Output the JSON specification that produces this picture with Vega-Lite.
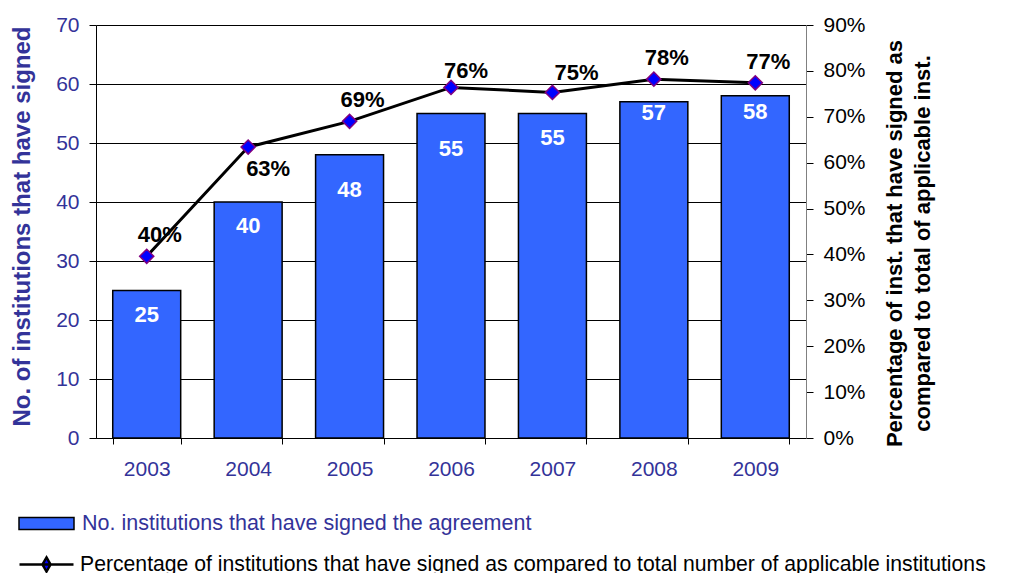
{
  "$schema": "https://vega.github.io/schema/vega-lite/v6.json",
  "width": 710,
  "height": 413,
  "autosize": {"type": "none"},
  "padding": {"left": 96, "top": 25, "right": 204, "bottom": 135},
  "background": "white",
  "config": {"view": {"stroke": null}, "font": "Liberation Sans"},
  "data": {
    "values": [
      {"year": "2003", "count": 25, "pct": 0.396},
      {"year": "2004", "count": 40, "pct": 0.634},
      {"year": "2005", "count": 48, "pct": 0.69},
      {"year": "2006", "count": 55, "pct": 0.764},
      {"year": "2007", "count": 55, "pct": 0.753},
      {"year": "2008", "count": 57, "pct": 0.782},
      {"year": "2009", "count": 58, "pct": 0.774}
    ]
  },
  "encoding": {
    "x": {
      "field": "year",
      "type": "ordinal",
      "scale": {"paddingInner": 0.33, "paddingOuter": 0.165},
      "axis": {
        "title": null,
        "labelAngle": 0,
        "labelFontSize": 21,
        "labelColor": "#333399",
        "labelPadding": 14,
        "tickBand": "extent",
        "tickSize": 6,
        "tickColor": "black",
        "domainColor": "black",
        "grid": false
      }
    }
  },
  "layer": [
    {
      "layer": [
        {
          "mark": {"type": "bar", "stroke": "black", "strokeWidth": 1.5},
          "encoding": {
            "y": {
              "field": "count",
              "type": "quantitative",
              "scale": {"domain": [0, 70]},
              "axis": {
                "orient": "left",
                "values": [0, 10, 20, 30, 40, 50, 60, 70],
                "title": "No. of institutions that have signed",
                "titleFontSize": 24,
                "titleFontWeight": "bold",
                "titleColor": "#333399",
                "titlePadding": 21,
                "titleY": 201,
                "labelFontSize": 21,
                "labelColor": "#333399",
                "labelPadding": 10,
                "tickSize": 7,
                "tickColor": "black",
                "domainColor": "black",
                "grid": true,
                "gridColor": "black",
                "gridWidth": 1
              }
            },
            "fill": {
              "datum": "No. institutions that have signed the agreement",
              "type": "nominal",
              "scale": {"range": ["#3366FF"]},
              "legend": {
                "orient": "none",
                "legendX": -78,
                "legendY": 470,
                "title": null,
                "padding": 0,
                "symbolType": "M-1,-0.22H1V0.22H-1Z",
                "symbolSize": 3025,
                "symbolStrokeColor": "black",
                "symbolStrokeWidth": 1.5,
                "symbolFillColor": "#3366FF",
                "labelFontSize": 21.5,
                "labelColor": "#333399",
                "labelLimit": 1000,
                "labelOffset": 7
              }
            }
          }
        },
        {
          "transform": [{"filter": "datum.year == '2003' || datum.year == '2004' || datum.year == '2007'"}],
          "mark": {"type": "text", "fontSize": 22, "fontWeight": "bold", "color": "white", "baseline": "middle", "dy": 24},
          "encoding": {
            "y": {"field": "count", "type": "quantitative"},
            "text": {"field": "count", "type": "quantitative"}
          }
        },
        {
          "transform": [{"filter": "datum.year == '2005' || datum.year == '2006'"}],
          "mark": {"type": "text", "fontSize": 22, "fontWeight": "bold", "color": "white", "baseline": "middle", "dy": 35},
          "encoding": {
            "y": {"field": "count", "type": "quantitative"},
            "text": {"field": "count", "type": "quantitative"}
          }
        },
        {
          "transform": [{"filter": "datum.year == '2008'"}],
          "mark": {"type": "text", "fontSize": 22, "fontWeight": "bold", "color": "white", "baseline": "middle", "dy": 11},
          "encoding": {
            "y": {"field": "count", "type": "quantitative"},
            "text": {"field": "count", "type": "quantitative"}
          }
        },
        {
          "transform": [{"filter": "datum.year == '2009'"}],
          "mark": {"type": "text", "fontSize": 22, "fontWeight": "bold", "color": "white", "baseline": "middle", "dy": 16},
          "encoding": {
            "y": {"field": "count", "type": "quantitative"},
            "text": {"field": "count", "type": "quantitative"}
          }
        }
      ]
    },
    {
      "layer": [
        {
          "mark": {"type": "line", "strokeWidth": 3},
          "encoding": {
            "y": {
              "field": "pct",
              "type": "quantitative",
              "scale": {"domain": [0, 0.9]},
              "axis": {
                "orient": "right",
                "format": ".0%",
                "values": [0, 0.1, 0.2, 0.3, 0.4, 0.5, 0.6, 0.7, 0.8, 0.9],
                "labelFontSize": 21,
                "labelColor": "black",
                "labelPadding": 10,
                "tickSize": 7,
                "tickColor": "black",
                "domainColor": "#808080",
                "grid": false,
                "title": ["Percentage of  inst. that have signed as", "compared to total of applicable inst."],
                "titleAngle": 270,
                "titleY": 218,
                "titleFontSize": 22,
                "titleFontWeight": "bold",
                "titleColor": "black",
                "titlePadding": 13,
                "titleLineHeight": 28
              }
            },
            "stroke": {
              "datum": "Percentage of  institutions that have signed as compared to total number of applicable institutions",
              "type": "nominal",
              "scale": {"range": ["black"]},
              "legend": {
                "orient": "none",
                "legendX": -78,
                "legendY": 511,
                "title": null,
                "padding": 0,
                "symbolType": "M-1,0H1M0,-0.26L0.15,0L0,0.26L-0.15,0Z",
                "symbolSize": 2916,
                "symbolStrokeColor": "black",
                "symbolStrokeWidth": 2.5,
                "symbolFillColor": "#0000FF",
                "labelFontSize": 21.2,
                "labelColor": "black",
                "labelLimit": 1200,
                "labelOffset": 5
              }
            }
          }
        },
        {
          "mark": {"type": "point", "shape": "diamond", "filled": true, "fill": "#0000FF", "stroke": "#800080", "strokeWidth": 1.5, "size": 200, "opacity": 1},
          "encoding": {
            "y": {"field": "pct", "type": "quantitative"}
          }
        },
        {
          "transform": [{"filter": "datum.year == '2003' || datum.year == '2005' || datum.year == '2008' || datum.year == '2009'"}],
          "mark": {"type": "text", "fontSize": 22, "fontWeight": "bold", "color": "black", "baseline": "middle", "dx": 13, "dy": -21},
          "encoding": {
            "y": {"field": "pct", "type": "quantitative"},
            "text": {"field": "pct", "type": "quantitative", "format": ".0%"}
          }
        },
        {
          "transform": [{"filter": "datum.year == '2006'"}],
          "mark": {"type": "text", "fontSize": 22, "fontWeight": "bold", "color": "black", "baseline": "middle", "dx": 15, "dy": -16},
          "encoding": {
            "y": {"field": "pct", "type": "quantitative"},
            "text": {"field": "pct", "type": "quantitative", "format": ".0%"}
          }
        },
        {
          "transform": [{"filter": "datum.year == '2007'"}],
          "mark": {"type": "text", "fontSize": 22, "fontWeight": "bold", "color": "black", "baseline": "middle", "dx": 24, "dy": -19},
          "encoding": {
            "y": {"field": "pct", "type": "quantitative"},
            "text": {"field": "pct", "type": "quantitative", "format": ".0%"}
          }
        },
        {
          "transform": [{"filter": "datum.year == '2004'"}],
          "mark": {"type": "text", "fontSize": 22, "fontWeight": "bold", "color": "black", "baseline": "middle", "dx": 20, "dy": 22},
          "encoding": {
            "y": {"field": "pct", "type": "quantitative"},
            "text": {"field": "pct", "type": "quantitative", "format": ".0%"}
          }
        }
      ]
    }
  ],
  "resolve": {"scale": {"y": "independent"}}
}
